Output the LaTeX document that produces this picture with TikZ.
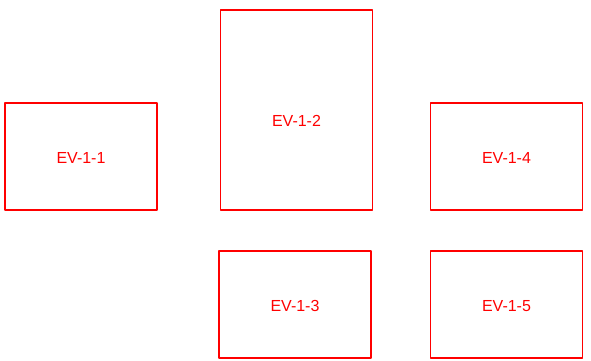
\documentclass[tikz,border=0pt]{standalone}
\usepackage{fontspec}
\setmainfont{Liberation Sans}
\begin{document}
\begin{tikzpicture}[x=0.75pt,y=-0.75pt,line join=round,
	evbox/.style={draw=red,text=red,line width=1pt,minimum width=114pt,minimum height=80.25pt,inner sep=0pt,text height=10.6pt,text depth=0pt,font=\fontsize{12}{14}\selectfont},
	evtall/.style={evbox,minimum height=150pt,text height=25pt}]
	\useasboundingbox (0,0) rectangle (591,360);
	\node[evbox] (ev11) at (81,156.5) {EV-1-1};
	\node[evtall] (ev12) at (296.5,110) {EV-1-2};
	\node[evbox] (ev14) at (506.5,156.5) {EV-1-4};
	\node[evbox] (ev13) at (295,304.5) {EV-1-3};
	\node[evbox] (ev15) at (506.5,304.5) {EV-1-5};
\end{tikzpicture}
\end{document}
